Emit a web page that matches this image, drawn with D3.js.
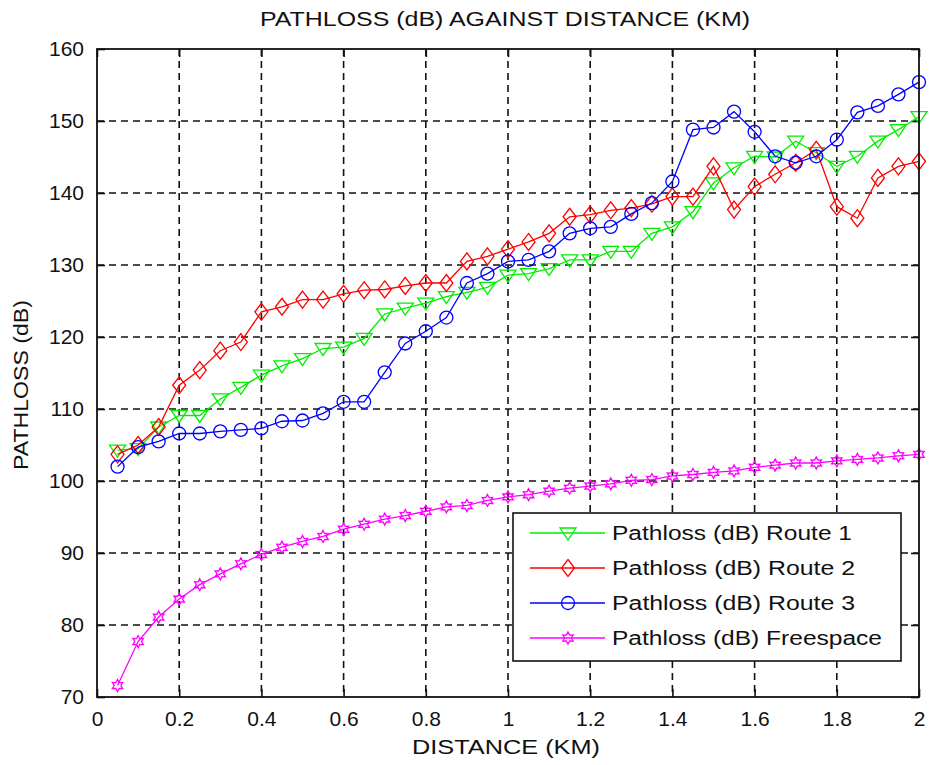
<!DOCTYPE html>
<html><head><meta charset="utf-8">
<script src="https://cdn.jsdelivr.net/npm/d3@7"></script>
<style>
body{margin:0;background:#fff;}
text{font-family:"Liberation Sans",Arial,sans-serif;fill:#111;}
</style></head>
<body><svg id="c" width="930" height="765"></svg>
<script>
const distance = [0.05,0.1,0.15,0.2,0.25,0.3,0.35,0.4,0.45,0.5,0.55,0.6,0.65,0.7,0.75,0.8,0.85,0.9,0.95,1.0,
  1.05,1.1,1.15,1.2,1.25,1.3,1.35,1.4,1.45,1.5,1.55,1.6,1.65,1.7,1.75,1.8,1.85,1.9,1.95,2.0];
const route1 = [104.3,104.5,107.5,109.1,109.1,111.4,113,114.7,116,117,118.4,118.6,119.8,123.2,124,124.7,125.6,126.2,126.9,128.6,
  128.8,129.5,130.7,130.7,131.9,131.9,134.4,135.3,137.4,141.4,143.5,145.1,145,147.2,145.6,143.7,145.1,147.2,148.8,150.6];
const route2 = [103.7,105,107.5,113.3,115.4,118.1,119.3,123.5,124.2,125.2,125.2,126,126.5,126.6,127.1,127.5,127.5,130.5,131.2,132.2,
  133.2,134.4,136.7,137,137.6,137.9,138.5,139.5,139.5,143.7,137.7,140.9,142.6,144.2,146,138.1,136.5,142.1,143.7,144.4];
const route3 = [102,104.7,105.5,106.6,106.6,106.9,107.1,107.3,108.3,108.4,109.4,111,111,115.1,119.1,120.8,122.7,127.5,128.8,130.5,
  130.7,131.9,134.4,135.1,135.3,137.1,138.6,141.6,148.8,149.1,151.3,148.5,145.1,144.2,145.1,147.4,151.2,152.1,153.7,155.4];
const freespace = [71.6,77.7,81.1,83.6,85.6,87.1,88.5,89.8,90.8,91.6,92.3,93.3,94.0,94.7,95.2,95.8,96.4,96.6,97.3,97.8,
  98.1,98.6,99.0,99.3,99.6,100.1,100.2,100.7,100.9,101.2,101.4,101.9,102.2,102.5,102.5,102.8,103.0,103.2,103.5,103.7];
const seriesNames = ["Pathloss (dB) Route 1","Pathloss (dB) Route 2","Pathloss (dB) Route 3","Pathloss (dB) Freespace"];
const xTicks = [0,0.2,0.4,0.6,0.8,1,1.2,1.4,1.6,1.8,2];
const yTicks = [70,80,90,100,110,120,130,140,150,160];

const series = [
  {name:seriesNames[0], values:route1, color:"#00ee00", marker:"tri"},
  {name:seriesNames[1], values:route2, color:"#ff0000", marker:"dia"},
  {name:seriesNames[2], values:route3, color:"#0000ff", marker:"circ"},
  {name:seriesNames[3], values:freespace, color:"#ff00ff", marker:"hex"}
];

const W=930,H=765, m={l:97,r:11,t:49,b:68};
const svg=d3.select("#c");
const x=d3.scaleLinear().domain([0,2]).range([m.l,W-m.r]);
const y=d3.scaleLinear().domain([70,160]).range([H-m.b,m.t]);
const pw=W-m.l-m.r, ph=H-m.t-m.b;

// grid
const g=svg.append("g");
g.selectAll(".gx").data(xTicks.slice(1,-1)).enter().append("line")
 .attr("x1",d=>x(d)).attr("x2",d=>x(d)).attr("y1",m.t).attr("y2",H-m.b)
 .attr("stroke","#111").attr("stroke-width",1.6).attr("stroke-dasharray","7,5");
g.selectAll(".gy").data(yTicks.slice(1,-1)).enter().append("line")
 .attr("y1",d=>y(d)).attr("y2",d=>y(d)).attr("x1",m.l).attr("x2",W-m.r)
 .attr("stroke","#111").attr("stroke-width",1.6).attr("stroke-dasharray","7,5");

// axes (inward ticks, all 4 sides)
const fs=21;
const xa=svg.append("g").attr("transform",`translate(0,${H-m.b})`)
 .call(d3.axisBottom(x).tickValues(xTicks).tickFormat(d3.format("~g")).tickSizeInner(-8).tickSizeOuter(0).tickPadding(14));
const xt=svg.append("g").attr("transform",`translate(0,${m.t})`)
 .call(d3.axisTop(x).tickValues(xTicks).tickSizeInner(-8).tickSizeOuter(0).tickFormat(""));
const ya=svg.append("g").attr("transform",`translate(${m.l},0)`)
 .call(d3.axisLeft(y).tickValues(yTicks).tickSizeInner(-8).tickSizeOuter(0).tickPadding(13));
const yr=svg.append("g").attr("transform",`translate(${W-m.r},0)`)
 .call(d3.axisRight(y).tickValues(yTicks).tickSizeInner(-8).tickSizeOuter(0).tickFormat(""));
[xa,xt,ya,yr].forEach(a=>{a.select(".domain").remove();a.selectAll("line").attr("stroke","#111").attr("stroke-width",1.6);
  a.selectAll("text").style("font-size",fs+"px").style("font-family","'Liberation Sans',Arial,sans-serif").attr("fill","#111");});
xa.selectAll("text").attr("dy","0.71em");

// lines + markers
const line=d3.line().x((d,i)=>x(distance[i])).y(d=>y(d));
function drawMarker(sel,type,color){
  if(type==="circ") sel.append("circle").attr("r",6.5);
  else if(type==="tri") sel.append("path").attr("d","M-8,-5L8,-5L0,7Z");
  else if(type==="dia") sel.append("path").attr("d","M0,-8.5L6.5,0L0,8.5L-6.5,0Z");
  else {
    const pts=[];
    for(let k=0;k<12;k++){const r=k%2?3.3:6;const a=-Math.PI/2+k*Math.PI/6;pts.push([r*Math.cos(a),r*Math.sin(a)]);}
    sel.append("path").attr("d","M"+pts.map(p=>p.join(",")).join("L")+"Z");
  }
  sel.selectAll("circle,path").attr("fill","none").attr("stroke",color).attr("stroke-width",1.3);
}
series.forEach(s=>{
  const sg=svg.append("g");
  sg.append("path").attr("d",line(s.values)).attr("fill","none").attr("stroke",s.color).attr("stroke-width",1.3);
  s.values.forEach((v,i)=>{
    const mg=sg.append("g").attr("transform",`translate(${x(distance[i])},${y(v)})`);
    drawMarker(mg,s.marker,s.color);
  });
});

// frame
svg.append("rect").attr("x",m.l).attr("y",m.t).attr("width",pw).attr("height",ph)
 .attr("fill","none").attr("stroke","#111").attr("stroke-width",1.8);

// title & labels
svg.append("text").attr("x",505).attr("y",26).attr("text-anchor","middle").style("font-size","20px")
 .attr("textLength",490).attr("lengthAdjust","spacingAndGlyphs").text("PATHLOSS (dB) AGAINST DISTANCE (KM)");
svg.append("text").attr("x",506).attr("y",754).attr("text-anchor","middle").style("font-size","20px")
 .attr("textLength",188).attr("lengthAdjust","spacingAndGlyphs").text("DISTANCE (KM)");
svg.append("text").attr("transform","translate(28,385) rotate(-90)").attr("text-anchor","middle").style("font-size","20px")
 .attr("textLength",170).attr("lengthAdjust","spacingAndGlyphs").text("PATHLOSS (dB)");

// legend
const lg=svg.append("g");
lg.append("rect").attr("x",513).attr("y",513).attr("width",388).attr("height",148)
 .attr("fill","#fff").attr("stroke","#111").attr("stroke-width",1.6);
const rowY=[533,568,603,638];
const textW=[240,243,243,270];
series.forEach((s,i)=>{
  lg.append("line").attr("x1",530).attr("x2",605).attr("y1",rowY[i]).attr("y2",rowY[i]).attr("stroke",s.color).attr("stroke-width",1.3);
  const mg=lg.append("g").attr("transform",`translate(568,${rowY[i]})`);
  drawMarker(mg,s.marker,s.color);
  lg.append("text").attr("x",612).attr("y",rowY[i]+7).style("font-size","20px")
   .attr("textLength",textW[i]).attr("lengthAdjust","spacingAndGlyphs").text(s.name);
});
</script></body></html>
